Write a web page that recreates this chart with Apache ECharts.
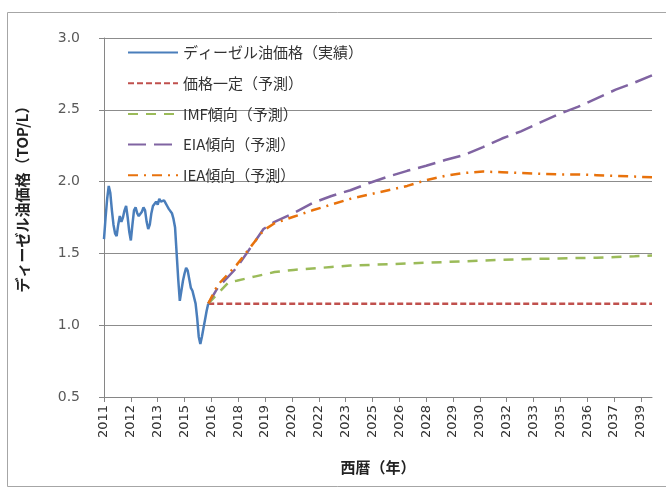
<!DOCTYPE html>
<html>
<head>
<meta charset="utf-8">
<script src="https://cdn.jsdelivr.net/npm/echarts@6/dist/echarts.min.js"></script>
<style>
  html, body { margin: 0; padding: 0; background: #fff; }
  #chart { width: 666px; height: 488px; }
</style>
</head>
<body>
<div id="chart"></div>
<script>
// 月次カテゴリ 2011-01 〜 2039-12
var months = [];
for (var y = 2011; y <= 2039; y++) {
    for (var m = 1; m <= 12; m++) {
        months.push(y + '-' + (m < 10 ? '0' + m : m));
    }
}

// ディーゼル油価格（実績） 2011-01 から月次
var dieselActual = [
    1.60, 1.75, 1.88, 1.97, 1.92, 1.80, 1.70, 1.64, 1.62, 1.70, 1.76, 1.72,
    1.75, 1.80, 1.83, 1.75, 1.65, 1.59, 1.70, 1.80, 1.82, 1.78, 1.76, 1.75,
    1.79, 1.82, 1.80, 1.72, 1.67, 1.70, 1.78, 1.83, 1.84, 1.86, 1.84, 1.88,
    1.86, 1.85, 1.87, 1.85, 1.83, 1.81, 1.80, 1.78, 1.74, 1.68, 1.50, 1.32,
    1.17, 1.24, 1.31, 1.36, 1.40, 1.38, 1.37, 1.26, 1.24, 1.25, 1.15, 1.05,
    0.92, 0.87, 0.92, 0.98, 1.04, 1.10, 1.15
];

// 予測の節点（月, 値）
var flatMonths = ['2016-07', '2039-12'];
var flatValues = [1.15, 1.15];

var imfMonths = ['2016-07', '2017-08', '2018-01', '2019-01', '2020-01', '2021-01', '2022-01', '2023-01',
    '2024-01', '2025-01', '2026-01', '2027-01', '2028-01', '2029-01', '2030-01', '2031-01', '2032-01',
    '2033-01', '2034-01', '2035-01', '2036-01', '2037-01', '2038-01', '2039-01', '2039-12'];
var imfValues = [1.15, 1.30, 1.31, 1.34, 1.37, 1.385, 1.395, 1.405, 1.415, 1.42, 1.425, 1.43, 1.435,
    1.44, 1.445, 1.45, 1.455, 1.46, 1.462, 1.465, 1.468, 1.47, 1.475, 1.48, 1.485];

var eiaMonths = ['2016-07', '2017-01', '2018-01', '2019-01', '2019-06', '2020-01', '2021-01', '2022-01',
    '2023-01', '2024-01', '2025-01', '2026-01', '2027-01', '2028-01', '2029-01', '2030-01', '2031-01',
    '2032-01', '2033-01', '2034-01', '2035-01', '2036-01', '2037-01', '2038-01', '2039-01', '2039-12'];
var eiaValues = [1.15, 1.26, 1.40, 1.59, 1.67, 1.72, 1.78, 1.85, 1.90, 1.94, 1.99, 2.035, 2.075, 2.11,
    2.15, 2.185, 2.24, 2.30, 2.35, 2.41, 2.47, 2.52, 2.58, 2.64, 2.69, 2.74];

var ieaMonths = ['2016-07', '2017-01', '2018-01', '2019-01', '2019-06', '2020-01', '2021-01', '2022-01',
    '2023-01', '2024-01', '2025-01', '2026-01', '2027-01', '2028-01', '2029-01', '2030-01', '2031-01',
    '2032-01', '2033-01', '2034-01', '2035-01', '2036-01', '2037-01', '2038-01', '2039-01', '2039-12'];
var ieaValues = [1.15, 1.28, 1.42, 1.59, 1.66, 1.71, 1.755, 1.80, 1.84, 1.88, 1.91, 1.94, 1.97, 2.01,
    2.04, 2.06, 2.07, 2.065, 2.06, 2.055, 2.05, 2.05, 2.045, 2.04, 2.035, 2.03];

var seriesNames = ['ディーゼル油価格（実績）', '価格一定（予測）', 'IMF傾向（予測）', 'EIA傾向（予測）', 'IEA傾向（予測）'];

function pairs(ms, vs) {
    return ms.map(function (mm, i) { return [mm, vs[i]]; });
}

var jpFont = '"Noto Sans CJK JP", sans-serif';
var numFont = '"DejaVu Sans", sans-serif';

var chart = echarts.init(document.getElementById('chart'));

chart.setOption({
    animation: false,
    backgroundColor: '#fff',
    graphic: [{
        type: 'rect',
        shape: { x: 7.5, y: 12.5, width: 680, height: 474 },
        style: { fill: 'none', stroke: '#a6a6a6', lineWidth: 1 },
        silent: true
    }],
    grid: { left: 104, right: 14, top: 38, bottom: 91 },
    legend: {
        orient: 'vertical',
        left: 122,
        top: 40,
        itemWidth: 50,
        itemHeight: 14,
        itemGap: 15.7,
        itemStyle: { opacity: 0 },
        textStyle: { fontFamily: jpFont, fontSize: 15, color: '#333' },
        data: seriesNames
    },
    xAxis: {
        type: 'category',
        data: months,
        boundaryGap: false,
        name: '西暦（年）',
        nameLocation: 'middle',
        nameGap: 63,
        nameTextStyle: { fontFamily: jpFont, fontSize: 15, fontWeight: 'bold', color: '#222' },
        axisLine: { lineStyle: { color: '#868686', width: 1 } },
        axisTick: { interval: 16, length: 5, lineStyle: { color: '#868686' } },
        axisLabel: {
            interval: 16,
            rotate: 90,
            margin: 8,
            fontFamily: numFont,
            fontSize: 13,
            color: '#333',
            formatter: function (v) { return v.slice(0, 4); }
        },
        splitLine: { show: false }
    },
    yAxis: {
        type: 'value',
        min: 0.5,
        max: 3.0,
        interval: 0.5,
        name: 'ディーゼル油価格（TOP/L）',
        nameLocation: 'middle',
        nameGap: 74,
        nameTextStyle: { fontFamily: jpFont, fontSize: 15, fontWeight: 'bold', color: '#222', padding: [0, 0, 0, 44] },
        axisLine: { show: true, lineStyle: { color: '#868686', width: 1 } },
        axisTick: { show: true, length: 5, lineStyle: { color: '#868686' } },
        axisLabel: {
            margin: 24,
            fontFamily: numFont,
            fontSize: 14,
            color: '#595959',
            formatter: function (v) { return v.toFixed(1); }
        },
        splitLine: { lineStyle: { color: '#8c8c8c', width: 1 } }
    },
    series: [
        {
            name: seriesNames[0],
            type: 'line',
            data: dieselActual,
            symbol: 'none',
            z: 5,
            lineStyle: { color: '#4a7ebb', width: 2.5 },
            itemStyle: { color: '#4a7ebb' }
        },
        {
            name: seriesNames[1],
            type: 'line',
            data: pairs(flatMonths, flatValues),
            symbol: 'none',
            lineStyle: { color: '#c0504d', width: 2.5, type: [6, 3] },
            itemStyle: { color: '#c0504d' }
        },
        {
            name: seriesNames[2],
            type: 'line',
            data: pairs(imfMonths, imfValues),
            symbol: 'none',
            lineStyle: { color: '#9bbb59', width: 2.5, type: [10, 8] },
            itemStyle: { color: '#9bbb59' }
        },
        {
            name: seriesNames[3],
            type: 'line',
            data: pairs(eiaMonths, eiaValues),
            symbol: 'none',
            lineStyle: { color: '#8064a2', width: 2.5, type: [18, 8] },
            itemStyle: { color: '#8064a2' }
        },
        {
            name: seriesNames[4],
            type: 'line',
            data: pairs(ieaMonths, ieaValues),
            symbol: 'none',
            lineStyle: { color: '#e8720c', width: 2.5, type: [10, 6, 2, 6] },
            itemStyle: { color: '#e8720c' }
        }
    ]
});

window.addEventListener('resize', function () {
    chart.resize();
});
</script>
</body>
</html>
